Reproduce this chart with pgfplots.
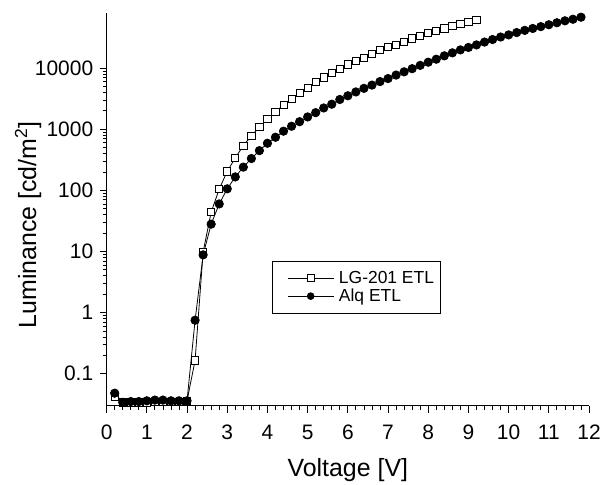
\documentclass[border=0pt]{standalone}
\usepackage{fontspec}
\setmainfont{Liberation Sans}
\usepackage{pgfplots}
\pgfplotsset{compat=1.18}

\begin{document}
\begin{tikzpicture}
\begin{axis}[name=ax,scale only axis,width=484pt,height=394pt,
  xmin=0,xmax=12,ymode=log,ymin=0.03,ymax=80000,
  axis x line*=bottom,axis y line*=left,axis line style={line width=0.9pt},
  xtick={0,...,12},minor x tick num=4,
  ytick={0.1,1,10,100,1000,10000},yticklabels={0.1,1,10,100,1000,10000},
  tick align=outside,major tick length=7pt,minor tick length=4pt,
  tick style={black,line width=0.8pt},
  /pgf/number format/assume math mode=true,
  tick label style={font=\fontsize{21}{25}\selectfont},
  xticklabel style={yshift=-9pt},
  yticklabel style={xshift=-3pt},
  xlabel={Voltage [V]},ylabel={Luminance [cd/m\textsuperscript{2}]},
  label style={font=\fontsize{25}{30}\selectfont},
  xlabel style={at={(axis description cs:0.5,-0.180)},anchor=base},
  ylabel style={at={(axis description cs:-0.163,0.46)},anchor=center},
  legend style={at={(axis description cs:0.343,0.368)},anchor=north west,
    draw=black,line width=0.6pt,font=\fontsize{17.5}{20}\selectfont,
    inner xsep=4pt,inner ysep=8pt,row sep=0pt},
  legend cell align=left,
  legend image code/.code={\path (0pt,0pt) (60pt,0pt);
    \draw[#1,mark repeat=2,mark phase=2,mark size=3.4pt]
    plot coordinates {(11pt,0pt)(34pt,0pt)(57pt,0pt)};},
]
\addplot[black,line width=0.8pt,mark=square*,mark size=3.6pt,
  mark options={fill=white,line width=0.8pt}] coordinates {
(0.2,0.042)(0.4,0.034)(0.6,0.034)(0.8,0.034)(1.0,0.034)(1.2,0.035)(1.4,0.035)
(1.6,0.035)(1.8,0.035)(2.0,0.036)(2.2,0.165)(2.4,9.8)(2.6,44)(2.8,105)
(3.0,205)(3.2,340)(3.4,540)(3.6,780)(3.8,1090)(4.0,1480)(4.2,1950)(4.4,2470)
(4.6,3150)(4.8,3890)(5.0,4780)(5.2,5870)(5.4,7060)(5.6,8360)(5.8,9820)
(6.0,11500)(6.2,13200)(6.4,14900)(6.6,16900)(6.8,19800)(7.0,22100)
(7.2,24300)(7.4,27300)(7.6,30700)(7.8,34000)(8.0,37500)(8.2,40800)
(8.4,44600)(8.6,48700)(8.8,53300)(9.0,57600)(9.2,61600)};
\addlegendentry{LG-201 ETL}
\addplot[black,line width=0.8pt,mark=*,mark size=4.2pt] coordinates {
(0.2,0.048)(0.4,0.034)(0.6,0.035)(0.8,0.035)(1.0,0.036)(1.2,0.037)(1.4,0.037)
(1.6,0.036)(1.8,0.036)(2.0,0.036)(2.2,0.75)(2.4,8.8)(2.6,28)(2.8,60)
(3.0,106)(3.2,166)(3.4,240)(3.6,332)(3.8,447)(4.0,590)(4.2,740)(4.4,930)
(4.6,1120)(4.8,1330)(5.0,1590)(5.2,1870)(5.4,2230)(5.6,2570)(5.8,3070)
(6.0,3530)(6.2,4080)(6.4,4670)(6.6,5280)(6.8,6030)(7.0,6750)(7.2,7700)
(7.4,8700)(7.6,9800)(7.8,11100)(8.0,12500)(8.2,14000)(8.4,15900)
(8.6,17800)(8.8,19900)(9.0,21800)(9.2,24000)(9.4,26700)(9.6,29400)
(9.8,32300)(10.0,35000)(10.2,38200)(10.4,41500)(10.6,44600)(10.8,47800)
(11.0,51300)(11.2,55300)(11.4,59500)(11.6,63100)(11.8,68200)};
\addlegendentry{Alq ETL}
\end{axis}
\path (ax.south west) ++(-107pt,-74pt) rectangle ++(604pt,481pt);
\end{tikzpicture}
\end{document}
